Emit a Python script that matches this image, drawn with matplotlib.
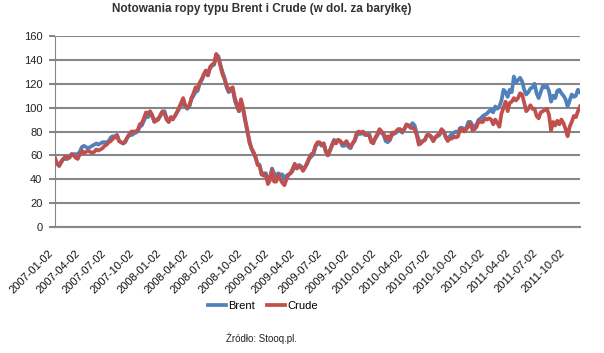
import matplotlib
matplotlib.use("Agg")
import matplotlib.pyplot as plt
import pandas as pd

title = "Notowania ropy typu Brent i Crude (w dol. za baryłkę)"
source = "Źródło: Stooq.pl."
series_names = ["Brent", "Crude"]
start_date = "2007-01-02"

brent = [
    # 2007
    56, 53, 52, 55, 57,
    57, 57, 59, 61,
    61, 61, 61, 63,
    67, 68, 67, 66,
    67, 68, 69, 70, 69,
    70, 71, 71, 71,
    72, 75, 76, 76, 77,
    72, 71, 70, 71,
    75, 77, 77, 78,
    79, 80, 84, 85, 89,
    93, 92, 95, 93,
    89, 90, 91, 93,
    # 2008
    96, 97, 91, 88, 92,
    91, 93, 96, 99,
    102, 104, 101, 99,
    101, 107, 110, 113, 114,
    120, 123, 127, 131,
    127, 133, 135, 136,
    144, 143, 136, 130, 125,
    117, 113, 114, 115,
    106, 101, 97, 105, 98,
    89, 80, 73, 66,
    62, 58, 53, 52,
    44, 45, 45, 40, 41,
    # 2009
    49, 45, 43, 45,
    44, 44, 40, 43,
    44, 45, 47, 52, 49,
    52, 51, 49, 50,
    53, 57, 59, 61,
    67, 70, 70, 68, 70,
    64, 60, 64, 69,
    73, 72, 73, 72,
    68, 68, 71, 67, 66,
    70, 72, 77, 78,
    78, 79, 77, 77,
    78, 72, 72, 74, 77,
    # 2010
    80, 79, 77, 72,
    71, 73, 77, 78,
    79, 81, 81, 79, 82,
    85, 85, 85, 87,
    85, 78, 73, 71,
    72, 73, 77, 77, 75,
    72, 75, 76, 77,
    81, 80, 76, 73, 76,
    78, 79, 80, 79,
    83, 83, 82, 83,
    88, 88, 85, 84, 86,
    90, 91, 93, 94,
    # 2011
    95, 97, 98, 96,
    101, 99, 101, 106,
    115, 113, 109, 115, 113,
    126, 121, 123, 125,
    122, 115, 111, 113, 116,
    117, 120, 112, 108,
    113, 118, 117, 118,
    114, 105, 110, 108, 114,
    115, 112, 110, 107,
    101, 106, 111, 109,
    110, 115, 113,
]

crude = [
    # 2007
    58, 53, 51, 54, 57,
    59, 58, 58, 61,
    60, 58, 57, 61,
    64, 62, 63, 64,
    63, 62, 63, 65, 64,
    65, 66, 68, 69,
    71, 72, 74, 75, 77,
    72, 71, 70, 72,
    75, 78, 80, 80,
    80, 81, 86, 87, 91,
    96, 95, 97, 94,
    88, 89, 90, 94,
    # 2008
    97, 95, 90, 88, 92,
    90, 93, 96, 100,
    104, 108, 102, 100,
    102, 108, 112, 117, 116,
    121, 124, 128, 131,
    127, 134, 136, 137,
    145, 142, 135, 128, 124,
    119, 114, 116, 117,
    108, 103, 97, 107, 100,
    90, 82, 71, 66,
    63, 59, 52, 51,
    44, 43, 44, 36, 39,
    # 2009
    48, 38, 38, 44,
    40, 37, 35, 40,
    44, 45, 49, 53, 49,
    51, 50, 47, 50,
    54, 58, 61, 62,
    68, 71, 71, 69, 70,
    63, 60, 64, 68,
    72, 70, 73, 72,
    70, 70, 72, 69, 67,
    70, 73, 79, 80,
    79, 80, 78, 77,
    77, 71, 70, 75, 78,
    # 2010
    82, 80, 78, 74,
    76, 73, 79, 79,
    80, 82, 82, 80, 82,
    86, 85, 83, 83,
    82, 77, 69, 70,
    72, 73, 77, 77, 76,
    72, 75, 77, 78,
    82, 80, 75, 72, 74,
    74, 76, 75, 76,
    82, 82, 80, 82,
    84, 87, 81, 82, 84,
    89, 88, 88, 91,
    # 2011
    90, 91, 90, 86,
    90, 87, 84, 95,
    100, 105, 97, 104, 105,
    108, 106, 108, 112,
    111, 104, 97, 99, 102,
    99, 99, 93, 91,
    96, 97, 98, 99,
    94, 81, 88, 85, 89,
    86, 90, 87, 82,
    76, 84, 88, 93,
    92, 97, 101,
]

tick_labels = [
    "2007-01-02", "2007-04-02", "2007-07-02", "2007-10-02",
    "2008-01-02", "2008-04-02", "2008-07-02", "2008-10-02",
    "2009-01-02", "2009-04-02", "2009-07-02", "2009-10-02",
    "2010-01-02", "2010-04-02", "2010-07-02", "2010-10-02",
    "2011-01-02", "2011-04-02", "2011-07-02", "2011-10-02",
]
y_ticks = [0, 20, 40, 60, 80, 100, 120, 140, 160]

colors = ["#4F81BD", "#C0504D"]
grid_color = "#878787"
plt.rcParams["font.family"] = ["Liberation Sans", "DejaVu Sans"]

dates_b = pd.date_range(start_date, periods=len(brent), freq="7D")
dates_c = pd.date_range(start_date, periods=len(crude), freq="7D")

fig = plt.figure(figsize=(6.04, 3.53), dpi=100)
ax = fig.add_axes([55 / 604, 1 - 227 / 353, (580 - 55) / 604, (227 - 36) / 353])

ax.plot(dates_b, brent, color=colors[0], lw=2.7, label=series_names[0], zorder=3,
        solid_joinstyle="round")
ax.plot(dates_c, crude, color=colors[1], lw=2.7, label=series_names[1], zorder=4,
        solid_joinstyle="round")

ax.set_ylim(0, 160)
ax.set_yticks(y_ticks)
ax.set_yticklabels([str(v) for v in y_ticks], fontsize=8, color="#222222")
ax.set_xlim(pd.Timestamp(start_date), pd.Timestamp("2011-11-15"))
tick_dates = [pd.Timestamp(t) for t in tick_labels]
ax.set_xticks(tick_dates)
ax.set_xticklabels(tick_labels, rotation=45, ha="right", fontsize=8, color="#111111")

ax.grid(axis="y", color=grid_color, lw=1.5, zorder=0)
ax.set_axisbelow(True)
for s in ["top", "right"]:
    ax.spines[s].set_visible(False)
ax.spines["left"].set_color(grid_color)
ax.spines["left"].set_linewidth(0.8)
ax.spines["bottom"].set_color(grid_color)
ax.spines["bottom"].set_linewidth(1.5)
ax.tick_params(axis="y", length=4, width=1.5, color=grid_color, pad=5)
ax.tick_params(axis="x", length=0, pad=15)

fig.text(262 / 604, 1 - 9 / 353, title, ha="center", va="center", fontsize=8.5,
         fontweight="bold", color="#333333")

handles, labels = ax.get_legend_handles_labels()
fig.legend(handles, labels, loc="center", bbox_to_anchor=(263 / 604, 1 - 306 / 353),
           ncol=2, frameon=False, fontsize=8, handlelength=1.6, handletextpad=0.2,
           columnspacing=1.1)

fig.text(261 / 604, 1 - 338 / 353, source, ha="center", va="center", fontsize=7,
         color="#222222")

fig.savefig("out.png", dpi=100)
